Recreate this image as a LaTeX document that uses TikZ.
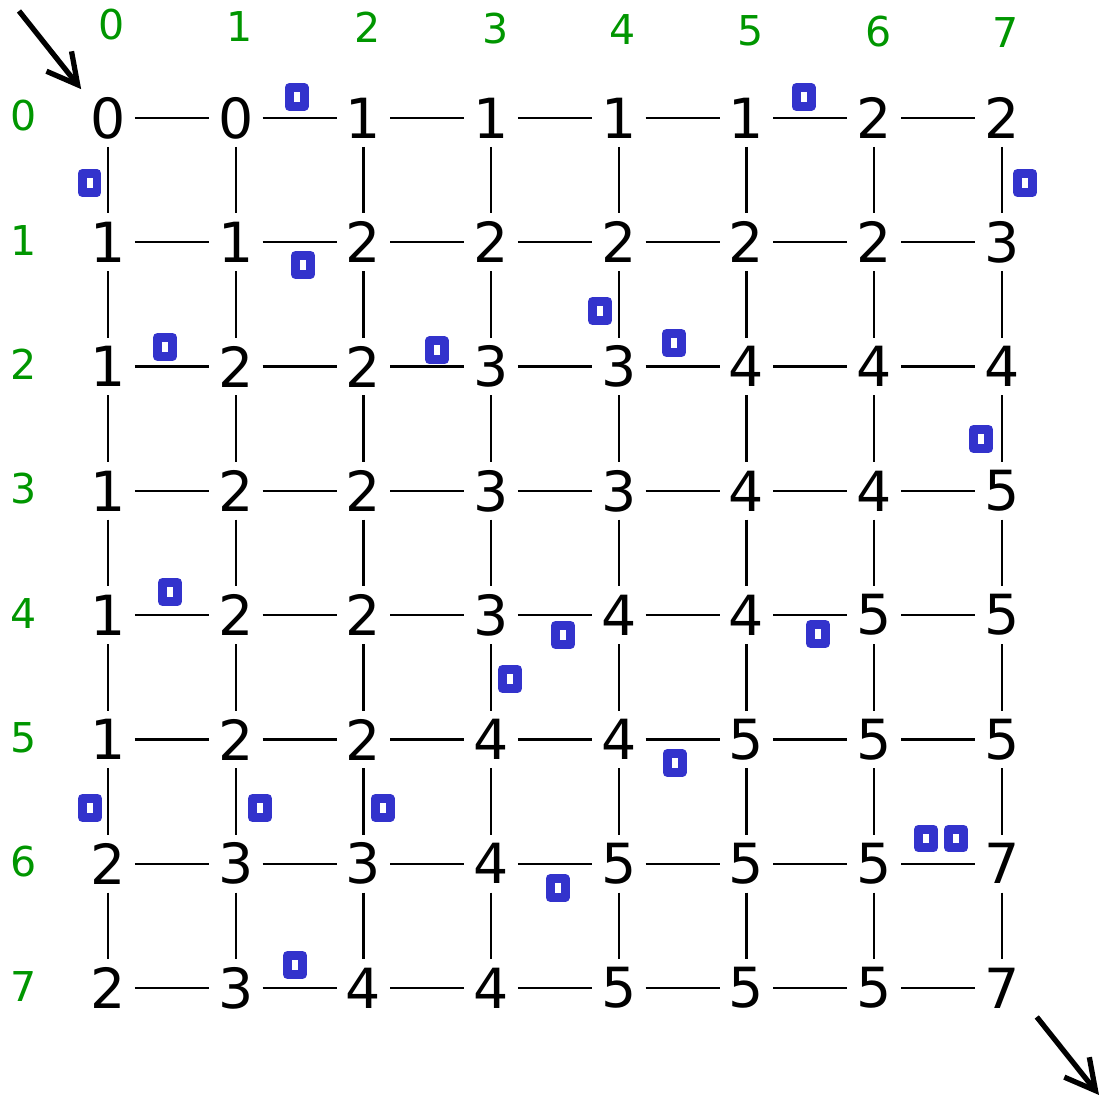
\documentclass[tikz,border=0pt]{standalone}
\usepackage{fontspec}
\setmainfont{DejaVu Sans}
\usetikzlibrary{arrows.meta}
\definecolor{coinblue}{RGB}{51,51,204}
\definecolor{idxgreen}{RGB}{0,150,0}
\tikzstyle{cell}=[inner sep=0pt, minimum width=1.06cm, minimum height=1.14cm, font=\fontsize{31.5}{36}\selectfont]
\tikzstyle{idx}=[inner sep=0pt, text=idxgreen, font=\fontsize{23.4}{28}\selectfont]
\tikzstyle{coin}=[draw=coinblue, line width=0.18cm, line join=round, inner sep=0pt, minimum width=0.3cm, minimum height=0.38cm]
\tikzstyle{edge}=[line width=1.3pt]
\tikzstyle{flow}=[line width=3pt, -{Straight Barb[length=0.6cm, width=0.64cm]}]

\begin{document}
\begin{tikzpicture}[x=0.02cm, y=-0.02cm]
\useasboundingbox (0,0) rectangle (1099,1097);

% grid values
\foreach \vals [count=\r from 0] in {{0,0,1,1,1,1,2,2},{1,1,2,2,2,2,2,3},{1,2,2,3,3,4,4,4},{1,2,2,3,3,4,4,5},
                                     {1,2,2,3,4,4,5,5},{1,2,2,4,4,5,5,5},{2,3,3,4,5,5,5,7},{2,3,4,4,5,5,5,7}}{
  \foreach \v [count=\c from 0] in \vals
    \node[cell] (n\r\c) at (108+127.7*\c, 118+124.3*\r) {\v};
}

\foreach \r in {0,...,7}
  \foreach \c [count=\d from 1] in {0,...,6}
    \draw[edge] (n\r\c) -- (n\r\d);
\foreach \c in {0,...,7}
  \foreach \r [count=\s from 1] in {0,...,6}
    \draw[edge] (n\r\c) -- (n\s\c);

% indices
\foreach \i in {0,...,7}{
  \node[idx] (col\i) at (112+127.7*\i, 25+1.1*\i) {\i};
  \node[idx] (row\i) at (24, 116+124.3*\i) {\i};
}

% coins
\foreach \x/\y [count=\k] in {296.5/97, 803.5/97, 89.5/183, 1025/183, 303/265, 600/311, 165/347, 437/350.5,
                              674/343, 981/439, 170/592, 563/635, 510/679, 818/634, 674.5/763, 90/808,
                              260/808, 382.5/808, 926/838.5, 956/838.5, 557.5/888, 295/965}
  \node[coin] (coin\k) at (\x,\y) {};

\coordinate (entry) at (19,11);
\coordinate (exit) at (1099,1095);
\draw[flow] (entry) -- (n00.north west);
\draw[flow] ([xshift=0.16cm]n77.south east) -- (exit);
\end{tikzpicture}
\end{document}
